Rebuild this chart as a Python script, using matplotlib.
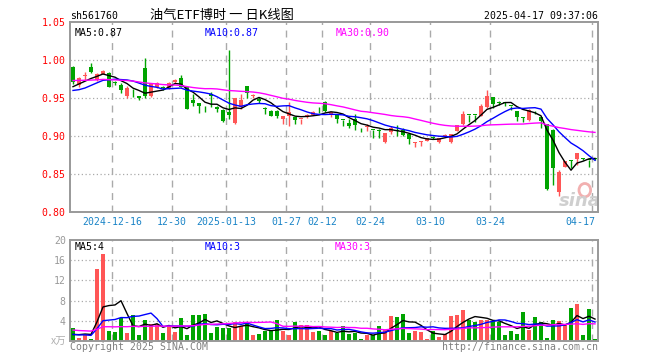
import numpy as np
import pandas as pd
import matplotlib
matplotlib.use("Agg")
import matplotlib.pyplot as plt
from matplotlib.patches import Ellipse

# daily candles 2024-12-05 .. 2025-04-17 (88 sessions)
opens = [0.991, 0.967, 0.979, 0.991, 0.974, 0.982, 0.983, 0.971, 0.9675, 0.952,
         0.957, 0.952, 0.990, 0.953, 0.964, 0.964, 0.963, 0.9705, 0.9767, 0.965,
         0.9478, 0.9434, 0.9395, 0.9547, 0.9376, 0.9346, 0.932, 0.917, 0.9385, 0.966,
         0.952, 0.9487, 0.936, 0.933, 0.9324, 0.9224, 0.9267, 0.9245, 0.9225, 0.925,
         0.9276, 0.937, 0.945, 0.9276, 0.9276, 0.9214, 0.917, 0.923, 0.9105, 0.9113,
         0.908, 0.9072, 0.8916, 0.9056, 0.907, 0.908, 0.903, 0.8912, 0.892, 0.8938,
         0.8985, 0.8916, 0.900, 0.8916, 0.907, 0.9158, 0.928, 0.928, 0.9267, 0.9376,
         0.951, 0.9445, 0.9435, 0.940, 0.933, 0.924, 0.921, 0.9315, 0.9245, 0.916,
         0.908, 0.826, 0.8596, 0.868, 0.8697, 0.8705, 0.8685, 0.8705]
highs = [0.992, 0.978, 0.984, 0.9955, 0.983, 0.987, 0.984, 0.973, 0.970, 0.966,
         0.962, 0.953, 1.002, 0.969, 0.971, 0.966, 0.971, 0.975, 0.9807, 0.966,
         0.955, 0.944, 0.9395, 0.958, 0.939, 0.935, 1.013, 0.950, 0.955, 0.966,
         0.955, 0.951, 0.938, 0.934, 0.934, 0.9267, 0.945, 0.925, 0.923, 0.929,
         0.933, 0.938, 0.946, 0.932, 0.928, 0.9214, 0.922, 0.929, 0.9105, 0.916,
         0.908, 0.909, 0.904, 0.913, 0.9145, 0.910, 0.903, 0.892, 0.894, 0.898,
         0.900, 0.898, 0.902, 0.903, 0.9145, 0.933, 0.928, 0.928, 0.942, 0.961,
         0.951, 0.946, 0.945, 0.940, 0.933, 0.925, 0.935, 0.933, 0.925, 0.916,
         0.9096, 0.855, 0.8675, 0.868, 0.877, 0.871, 0.8685, 0.871]
lows = [0.969, 0.965, 0.974, 0.983, 0.973, 0.981, 0.964, 0.967, 0.957, 0.950,
        0.951, 0.948, 0.950, 0.951, 0.963, 0.961, 0.962, 0.970, 0.964, 0.935,
        0.940, 0.930, 0.931, 0.9376, 0.931, 0.9188, 0.923, 0.916, 0.935, 0.9495,
        0.950, 0.944, 0.929, 0.926, 0.924, 0.9158, 0.9135, 0.9158, 0.9158, 0.924,
        0.927, 0.930, 0.932, 0.925, 0.917, 0.9126, 0.9105, 0.908, 0.9047, 0.907,
        0.898, 0.898, 0.891, 0.902, 0.8995, 0.900, 0.8895, 0.886, 0.887, 0.893,
        0.896, 0.891, 0.899, 0.891, 0.906, 0.915, 0.918, 0.918, 0.926, 0.937,
        0.937, 0.941, 0.940, 0.934, 0.920, 0.919, 0.920, 0.929, 0.9105, 0.829,
        0.836, 0.8214, 0.859, 0.858, 0.862, 0.869, 0.8596, 0.869]
closes = [0.9705, 0.976, 0.980, 0.984, 0.982, 0.986, 0.965, 0.970, 0.961, 0.963,
          0.956, 0.9495, 0.952, 0.968, 0.970, 0.963, 0.970, 0.974, 0.965, 0.936,
          0.9434, 0.939, 0.939, 0.952, 0.9355, 0.920, 0.928, 0.9495, 0.948, 0.9566,
          0.954, 0.9455, 0.9355, 0.9267, 0.9258, 0.9267, 0.931, 0.9205, 0.923, 0.9276,
          0.931, 0.9363, 0.9333, 0.931, 0.923, 0.921, 0.9126, 0.9145, 0.910, 0.9135,
          0.9075, 0.9068, 0.904, 0.910, 0.9065, 0.9013, 0.896, 0.8916, 0.894, 0.898,
          0.898, 0.898, 0.9005, 0.903, 0.9145, 0.929, 0.9276, 0.9276, 0.939, 0.952,
          0.942, 0.944, 0.943, 0.9395, 0.9245, 0.9235, 0.934, 0.931, 0.920, 0.830,
          0.858, 0.852, 0.8675, 0.8675, 0.877, 0.870, 0.868, 0.870]
# volume, 万手
volumes = [2.5, 0.6, 1.2, 0.4, 14.3, 17.2, 2.0, 1.8, 4.6, 1.6,
           5.1, 1.2, 4.2, 3.3, 3.3, 1.6, 3.0, 1.8, 4.6, 1.2,
           5.1, 5.1, 5.3, 1.6, 2.8, 2.6, 2.6, 3.7, 3.0, 3.7,
           1.2, 1.4, 2.0, 2.0, 4.2, 2.0, 1.2, 3.7, 3.2, 3.2,
           1.8, 2.0, 1.2, 2.0, 1.5, 3.0, 1.4, 1.6, 0.4, 1.2,
           1.2, 3.0, 2.2, 5.0, 4.8, 5.3, 1.6, 2.0, 1.8, 0.4,
           2.0, 0.8, 1.4, 5.0, 5.1, 6.1, 4.2, 3.8, 4.2, 4.2,
           4.0, 3.8, 1.2, 2.0, 1.4, 5.7, 2.2, 4.8, 3.8, 0.6,
           4.2, 4.0, 3.2, 6.5, 7.3, 1.2, 6.3, 0.4]

# sessions before the window, only used to seed the moving averages
prior_closes = [0.970, 0.975, 0.978, 0.972, 0.968, 0.974, 0.980, 0.976, 0.973,
                0.978, 0.985, 0.990, 0.988, 0.992, 0.986, 0.983, 0.980, 0.984, 0.979, 0.979,
                0.966, 0.958, 0.950, 0.948, 0.953,
                0.958, 0.962, 0.966, 0.968]
prior_volumes = [3.5, 2.8, 2.2, 3.1, 2.4, 1.9, 2.6, 3.3, 2.0, 2.7,
                 2.9, 2.3, 3.0, 2.5, 2.1, 2.8, 2.4, 2.6, 2.2, 2.7,
                 1.5, 1.2, 1.4, 1.1, 1.3,
                 0.8, 0.6, 0.8, 1.8]

tick_idx = [7, 17, 26, 36, 42, 50, 60, 70, 87]
tick_labels = ['2024-12-16', '12-30', '2025-01-13', '01-27', '02-12',
               '02-24', '03-10', '03-24', '04-17']
price_ticks = [0.80, 0.85, 0.90, 0.95, 1.00, 1.05]
vol_ticks = [0, 4, 8, 12, 16, 20]

RED = '#ff5656'
GREEN = '#00a400'
GRID = '#aaaaaa'
MONO = 'DejaVu Sans Mono'
FS = 7.1


def ma(prior, values, n):
    s = pd.Series(list(prior) + list(values))
    return s.rolling(n).mean().to_numpy()[len(prior):]


def fx(px):
    return px / 660.0


def fy(py):
    return 1 - py / 360.0


n = len(closes)
x = np.arange(n)
o = np.array(opens)
c = np.array(closes)
up = c >= o
colors = np.where(up, RED, GREEN)

fig = plt.figure(figsize=(6.6, 3.6), dpi=100)
ax = fig.add_axes([fx(70), fy(212), 528 / 660, 190 / 360])
axv = fig.add_axes([fx(70), fy(341), 528 / 660, 101 / 360])

for a in (ax, axv):
    a.set_xlim(-0.5, n - 0.5)
    for s in a.spines.values():
        s.set_color('#999999')
        s.set_linewidth(1.4)
    for i in tick_idx:
        a.axvline(i - 0.5, color=GRID, lw=1, ls=(0, (5, 4)), zorder=0)
    a.set_xticks([])

# price panel
ax.set_ylim(0.80, 1.05)
for p in price_ticks[1:-1]:
    ax.axhline(p, color=GRID, lw=0.9, ls=(0, (1, 2)), zorder=0)
ax.vlines(x, lows, highs, colors=colors, lw=1, zorder=2)
body = np.maximum(np.abs(c - o), 0.0011)
ax.bar(x, body, bottom=np.minimum(o, c), width=0.8, color=colors, zorder=3)

ma5 = ma(prior_closes, closes, 5)
ma10 = ma(prior_closes, closes, 10)
ma30 = ma(prior_closes, closes, 30)
ax.plot(x, ma5, color='black', lw=1, zorder=4)
ax.plot(x, ma10, color='#0000ff', lw=1, zorder=4)
ax.plot(x, ma30, color='#ff00ff', lw=1, zorder=4)

ax.set_yticks(price_ticks)
ax.set_yticklabels(['%.2f' % p for p in price_ticks], family=MONO, fontsize=FS, color='red')
ax.tick_params(axis='y', length=0, pad=3)

for i, lab in zip(tick_idx, tick_labels):
    if i == n - 1:
        ax.text(i, -0.055, lab, transform=ax.get_xaxis_transform(), ha='right', va='center',
                family=MONO, fontsize=FS, color='#1a84c7')
    else:
        ax.text(i - 0.5, -0.055, lab, transform=ax.get_xaxis_transform(), ha='center', va='center',
                family=MONO, fontsize=FS, color='#1a84c7')

# sina watermark
ax.add_patch(Ellipse((0.975, 0.115), 0.022, 0.07, transform=ax.transAxes,
                     fc='none', ec='#f2b0b0', lw=2, zorder=1))
ax.text(0.965, 0.06, 'sina', transform=ax.transAxes, ha='center', va='center',
        fontsize=13, fontweight='bold', style='italic', color='#cfcfcf', zorder=1)

# volume panel
axv.set_ylim(0, 20)
for v in vol_ticks[1:-1]:
    axv.axhline(v, color=GRID, lw=0.9, ls=(0, (1, 2)), zorder=0)
axv.bar(x, volumes, width=0.8, color=colors, zorder=2)
vma5 = ma(prior_volumes, volumes, 5)
vma10 = ma(prior_volumes, volumes, 10)
vma30 = ma(prior_volumes, volumes, 30)
axv.plot(x, vma5, color='black', lw=1, zorder=4)
axv.plot(x, vma10, color='#0000ff', lw=1, zorder=4)
axv.plot(x, vma30, color='#ff00ff', lw=1, zorder=4)
axv.set_yticks(vol_ticks[1:])
axv.set_yticklabels([str(v) for v in vol_ticks[1:]], family=MONO, fontsize=FS, color='#999999')
axv.tick_params(axis='y', length=0, pad=3)
fig.text(fx(66), fy(342), 'x万', ha='right', va='center', fontsize=7.5, color='#b0b0b0',
         family=['Noto Sans CJK SC', 'DejaVu Sans'], style='italic')

# header
fig.text(fx(70), fy(16), 'sh561760', ha='left', va='center', family=MONO, fontsize=FS)
fig.text(fx(150), fy(16), '油气ETF博时 一 日K线图', ha='left', va='center',
         family=['Noto Sans CJK SC', 'DejaVu Sans'], fontsize=9.5)
fig.text(fx(598), fy(16), '2025-04-17 09:37:06', ha='right', va='center', family=MONO, fontsize=FS)

# MA legends (sina truncates the volume averages)
fig.text(fx(75), fy(33), 'MA5:%.2f' % ma5[-1], family=MONO, fontsize=FS, va='center', color='black')
fig.text(fx(205), fy(33), 'MA10:%.2f' % ma10[-1], family=MONO, fontsize=FS, va='center', color='#0000ff')
fig.text(fx(336), fy(33), 'MA30:%.2f' % ma30[-1], family=MONO, fontsize=FS, va='center', color='#ff00ff')
fig.text(fx(75), fy(247), 'MA5:%d' % int(vma5[-1]), family=MONO, fontsize=FS, va='center', color='black')
fig.text(fx(205), fy(247), 'MA10:%d' % int(vma10[-1]), family=MONO, fontsize=FS, va='center', color='#0000ff')
fig.text(fx(335), fy(247), 'MA30:%d' % int(vma30[-1]), family=MONO, fontsize=FS, va='center', color='#ff00ff')

# footer
fig.text(fx(70), fy(347), 'Copyright 2025 SINA.COM', family=MONO, fontsize=FS, va='center', color='#808080')
fig.text(fx(598), fy(347), 'http://finance.sina.com.cn', family=MONO, fontsize=FS, va='center',
         ha='right', color='#808080')

fig.savefig('out.png', dpi=100)
